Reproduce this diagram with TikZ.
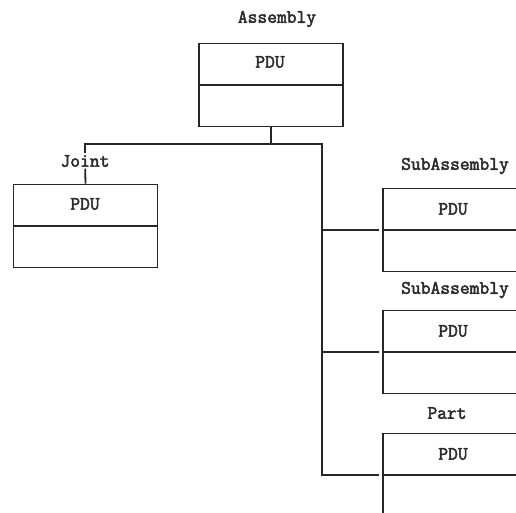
\documentclass[tikz,border=0pt]{standalone}
\usepackage{fontspec}
\newfontfamily\dotfont[FakeBold=2.5]{Latin Modern Mono}
\definecolor{inkc}{HTML}{262626}
\definecolor{txtc}{HTML}{2c2c2c}
\begin{document}
\begin{tikzpicture}[x=1pt,y=-1pt]
\tikzset{
  wire/.style={draw=inkc, line width=1.8pt},
  unitbox/.style={draw=inkc, line width=1.8pt, minimum width=144pt,
                  minimum height=83pt, inner sep=0pt},
  tag/.style={font=\dotfont\fontsize{19}{19}\selectfont, text=txtc, inner sep=1.5pt},
}
\clip (0,0) rectangle (516,513);
\fill[white] (0,0) rectangle (516,513);

% boxes (the right-hand column runs past the page edge)
\node[unitbox] (asm) at (271,85) {};
\node[unitbox] (jnt) at (85.5,226) {};
\node[unitbox] (sa1) at (455,230) {};
\node[unitbox] (sa2) at (455,352) {};
\node[unitbox] (prt) at (455,475) {};

% dividing rules through the middle of each box
\foreach \b in {asm,jnt,sa1,sa2,prt}
  \draw[wire] (\b.west) -- (\b.east);

% PDU captions in the upper halves
\node[tag] (asmp) at (270,62) {PDU};
\node[tag] (jntp) at (85,204) {PDU};
\node[tag] (sa1p) at (453,209) {PDU};
\node[tag] (sa2p) at (453,331) {PDU};
\node[tag] (prtp) at (453,454) {PDU};

% titles above the boxes
\node[tag] (asml) at (277,19) {Assembly};
\node[tag] (jntl) at (85,161) {Joint};
\node[tag] (sa1l) at (455,166) {SubAssembly};
\node[tag] (sa2l) at (455,290) {SubAssembly};
\node[tag] (prtl) at (447,413) {Part};

% tree connectors
\coordinate (hub) at (271,144);
\coordinate (jtop) at (85,144);
\coordinate (trunk) at (322,144);
\draw[wire] (asm.south) -- (hub);
\draw[wire] (jntl) -- (jtop) -- (trunk) -- (trunk |- prt.west) -- ([xshift=-3pt]prt.west);
\draw[wire] (jntl) -- (jnt.north);
\draw[wire] (trunk |- sa1.west) -- ([xshift=-3pt]sa1.west);
\draw[wire] (trunk |- sa2.west) -- ([xshift=-3pt]sa2.west);
\end{tikzpicture}
\end{document}
